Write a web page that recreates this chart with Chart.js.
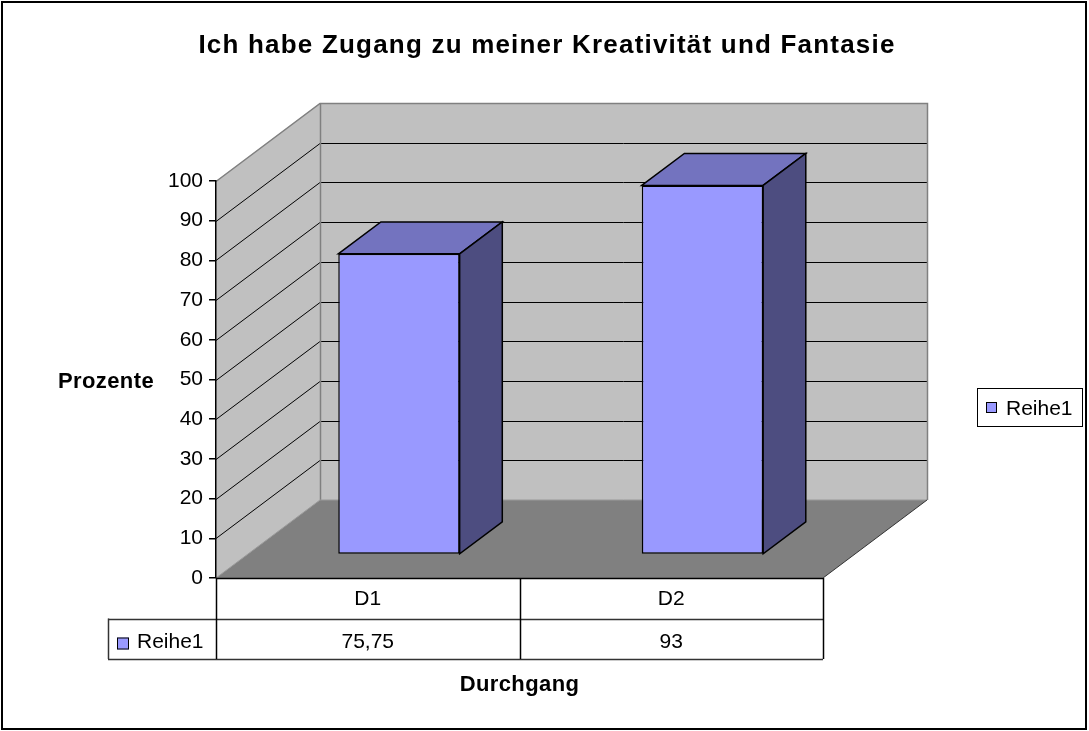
<!DOCTYPE html>
<html><head><meta charset="utf-8">
<script src="https://cdn.jsdelivr.net/npm/chart.js@4/dist/chart.umd.min.js"></script>
<style>html,body{margin:0;padding:0;background:#fff;overflow:hidden}canvas{display:block}</style>
</head><body>
<canvas id="c" width="1089" height="731"></canvas>
<script>
// ---- data ----
const chartTitle = 'Ich habe Zugang zu meiner Kreativität und Fantasie';
const categories = ['D1', 'D2'];
const seriesName = 'Reihe1';
const values = [75.75, 93];
const yMin = 0, yMax = 100, yStep = 10;
const yAxisTitle = 'Prozente';
const xAxisTitle = 'Durchgang';

// ---- style ----
const FONT = '"Liberation Sans", Arial, sans-serif';
const DEPTH = {dx: 104, dy: -78};
const BAR_FRONT = 0.3, BAR_BACK = 0.71;
const COL = {front:'#9999FF', top:'#7373BF', side:'#4D4D80', wall:'#C0C0C0', floor:'#808080', edge:'#808080'};
const PAD = {left: 100, top: 181, right: 1089 - 823, bottom: 731 - 578};
const TABLE_LEFT = 108, ROW_H = 40.5;

function fmt(v){ return String(v).replace('.', ','); }
function poly(ctx, pts, fill, stroke, lw){
  ctx.beginPath();
  pts.forEach((p,i)=> i ? ctx.lineTo(p[0],p[1]) : ctx.moveTo(p[0],p[1]));
  ctx.closePath();
  if (fill){ ctx.fillStyle = fill; ctx.fill(); }
  if (stroke){ ctx.strokeStyle = stroke; ctx.lineWidth = lw || 1; ctx.stroke(); }
}
function line(ctx, pts, color, lw){
  ctx.beginPath();
  pts.forEach((p,i)=> i ? ctx.lineTo(p[0],p[1]) : ctx.moveTo(p[0],p[1]));
  ctx.strokeStyle = color; ctx.lineWidth = lw || 1; ctx.stroke();
}

const fdx = DEPTH.dx * BAR_FRONT, fdy = DEPTH.dy * BAR_FRONT;

const scene = {
  id: 'scene',
  beforeDraw(chart){
    const {ctx, chartArea: a, scales: {y}} = chart;
    ctx.save();
    ctx.fillStyle = '#fff'; ctx.fillRect(0, 0, chart.width, chart.height);
    const L = a.left, R = a.right;
    const y0 = y.getPixelForValue(yMin), y1 = y.getPixelForValue(yMax);
    const dx = DEPTH.dx, dy = DEPTH.dy;
    // back wall
    poly(ctx, [[L+dx, y1+dy], [R+dx, y1+dy], [R+dx, y0+dy], [L+dx, y0+dy]], COL.wall);
    // left wall
    poly(ctx, [[L, y1], [L+dx, y1+dy], [L+dx, y0+dy], [L, y0]], COL.wall);
    // floor
    poly(ctx, [[L, y0], [R, y0], [R+dx, y0+dy], [L+dx, y0+dy]], COL.floor);
    // gridlines
    for (let v = yMin + yStep; v < yMax; v += yStep){
      const p = Math.round(y.getPixelForValue(v)) + 0.5;
      line(ctx, [[L, p], [L+dx, p+dy], [R+dx, p+dy]], '#000', 1);
    }
    // wall edges
    const t = Math.round(y1) + 0.5;
    line(ctx, [[L, t], [L+dx, t+dy], [R+dx+0.5, t+dy], [R+dx+0.5, y0+dy]], COL.edge, 1.5);
    line(ctx, [[L+dx+0.5, t+dy], [L+dx+0.5, y0+dy]], COL.edge, 1.5);
    line(ctx, [[L, y0], [L+dx, y0+dy], [R+dx, y0+dy]], '#999', 1);
    line(ctx, [[R, y0], [R+dx, y0+dy]], '#333', 1);
    ctx.restore();
  },
  beforeDatasetsDraw(chart){
    chart.ctx.save();
    chart.ctx.translate(fdx, fdy);
  },
  afterDatasetsDraw(chart){
    const ctx = chart.ctx;
    ctx.restore();
    ctx.save();
    const ddx = DEPTH.dx * (BAR_BACK - BAR_FRONT), ddy = DEPTH.dy * (BAR_BACK - BAR_FRONT);
    chart.getDatasetMeta(0).data.forEach(bar => {
      const {x, y, base, width} = bar.getProps(['x','y','base','width'], true);
      const l = x - width/2 + fdx, r = x + width/2 + fdx, t = y + fdy, b = base + fdy;
      poly(ctx, [[l, t], [l+ddx, t+ddy], [r+ddx, t+ddy], [r, t]], COL.top, '#000', 1.5);
      poly(ctx, [[r, t], [r+ddx, t+ddy], [r+ddx, b+ddy], [r, b]], COL.side, '#000', 1.5);
    });
    ctx.restore();
  },
  afterDraw(chart){
    const {ctx, chartArea: a, scales: {x, y}} = chart;
    ctx.save();
    const L = a.left, R = a.right, y0 = y.getPixelForValue(yMin);
    const r1 = y0 + ROW_H, r2 = y0 + 2*ROW_H;
    // data table
    line(ctx, [[L, y0+0.5], [R, y0+0.5]], '#000', 1.5);
    line(ctx, [[TABLE_LEFT, Math.round(r1)+0.5], [R, Math.round(r1)+0.5]], '#333', 1.5);
    line(ctx, [[TABLE_LEFT, Math.round(r2)+0.5], [R, Math.round(r2)+0.5]], '#333', 1.5);
    line(ctx, [[TABLE_LEFT+0.5, r1], [TABLE_LEFT+0.5, r2]], '#333', 1.5);
    line(ctx, [[L+0.5, y0], [L+0.5, r2]], '#000', 1.5);
    for (let i = 0; i < categories.length; i++){
      const xr = (i < categories.length - 1) ? (x.getPixelForValue(i) + x.getPixelForValue(i+1)) / 2 : R;
      line(ctx, [[Math.round(xr)+0.5, y0], [Math.round(xr)+0.5, r2]], '#000', 1.5);
    }
    ctx.fillStyle = '#000';
    ctx.font = '21px ' + FONT;
    ctx.textAlign = 'center'; ctx.textBaseline = 'alphabetic';
    categories.forEach((c, i) => {
      const cx = x.getPixelForValue(i);
      ctx.fillText(c, cx, y0 + 27);
      ctx.fillText(fmt(values[i]), cx, r1 + 29);
    });
    // table legend key
    ctx.fillStyle = COL.front; ctx.fillRect(117, r1 + 19, 12, 12);
    ctx.strokeStyle = '#000'; ctx.lineWidth = 1; ctx.strokeRect(117.5, r1 + 19.5, 11, 11);
    ctx.fillStyle = '#000'; ctx.textAlign = 'left';
    ctx.fillText(seriesName, 137, r1 + 29);
    // legend box
    ctx.fillStyle = '#fff'; ctx.fillRect(977, 388, 106, 39);
    ctx.strokeStyle = '#000'; ctx.lineWidth = 1; ctx.strokeRect(977.5, 388.5, 105, 38);
    ctx.fillStyle = COL.front; ctx.fillRect(986, 402, 11, 11);
    ctx.strokeRect(986.5, 402.5, 10, 10);
    ctx.fillStyle = '#000';
    ctx.fillText(seriesName, 1006, 415);
    // titles
    ctx.textAlign = 'center';
    ctx.font = 'bold 26px ' + FONT;
    ctx.letterSpacing = '1.2px';
    ctx.fillText(chartTitle, 547, 53);
    ctx.letterSpacing = '0.4px';
    ctx.font = 'bold 22px ' + FONT;
    ctx.fillText(yAxisTitle, 106, 388);
    ctx.fillText(xAxisTitle, (L + R) / 2, 691);
    ctx.letterSpacing = '0px';
    // outer frame
    ctx.strokeStyle = '#000'; ctx.lineWidth = 2;
    ctx.strokeRect(2, 2, 1084, 727);
    ctx.restore();
  }
};

new Chart(document.getElementById('c'), {
  type: 'bar',
  data: {
    labels: categories,
    datasets: [{
      label: seriesName,
      data: values,
      backgroundColor: COL.front,
      borderColor: '#000',
      borderWidth: 1.5,
      borderSkipped: false,
      categoryPercentage: 1,
      barPercentage: 0.4
    }]
  },
  options: {
    responsive: false,
    animation: false,
    devicePixelRatio: 1,
    events: [],
    layout: {padding: PAD},
    plugins: {legend: {display: false}, title: {display: false}, tooltip: {enabled: false}},
    scales: {
      x: {display: false, offset: true},
      y: {
        min: yMin, max: yMax,
        afterFit(s){ s.width = 216 - PAD.left; },
        ticks: {stepSize: yStep, color: '#000', font: {family: FONT, size: 21}, padding: 6},
        grid: {drawOnChartArea: false, drawTicks: true, tickLength: 7, color: '#000', lineWidth: 1.5},
        border: {display: true, color: '#000', width: 1.5}
      }
    }
  },
  plugins: [scene]
});
</script>
</body></html>
